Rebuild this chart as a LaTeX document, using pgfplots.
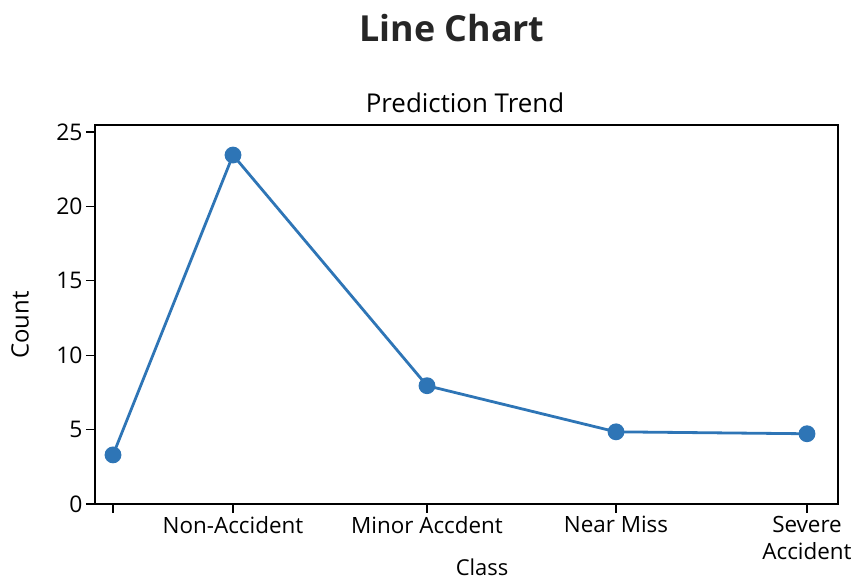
\documentclass[border=0pt]{standalone}
\usepackage{fontspec}
\setmainfont{Open Sans}
\usepackage{pgfplots}
\pgfplotsset{compat=1.18}
\definecolor{lineblue}{RGB}{46,117,182}
\begin{document}
\begin{tikzpicture}[x=1bp,y=1bp]
\useasboundingbox (-95,-77) rectangle (758,504);
\begin{axis}[
  at={(0,0)}, anchor=south west,
  scale only axis, width=743bp, height=379bp,
  xmin=0, xmax=743, ymin=0, ymax=25.47,
  xtick={18,138,332,521,712},
  xticklabels={{},Non-Accident,Minor Accdent,Near Miss,Severe\\Accident},
  xticklabel style={align=center, font=\fontsize{22.5}{27}\selectfont, yshift=0bp},
  ytick={0,5,10,15,20,25},
  yticklabel style={font=\fontsize{23}{27}\selectfont},
  /pgf/number format/assume math mode=true,
  tick align=outside,
  major tick length=9bp,
  tick style={black, line width=1.1bp},
  axis line style={black, line width=1.1bp},
  xtick pos=bottom, ytick pos=left,
  clip=false,
]
\addplot[color=lineblue, line width=2.8bp, mark=*, mark size=7bp, mark options={fill=lineblue, draw=lineblue}]
  coordinates {(18,3.3) (138,23.45) (332,7.95) (521,4.85) (712,4.72)};
\end{axis}
\node[font=\bfseries\fontsize{36}{42}\selectfont, text=black!85] at (357,476) {Line Chart};
\node[font=\fontsize{26}{30}\selectfont] at (370,401) {Prediction Trend};
\node[font=\fontsize{24}{28}\selectfont, rotate=90] at (-75,179) {Count};
\node[font=\fontsize{22}{26}\selectfont, anchor=base, inner sep=0pt] at (387,-72) {Class};
\end{tikzpicture}
\end{document}
